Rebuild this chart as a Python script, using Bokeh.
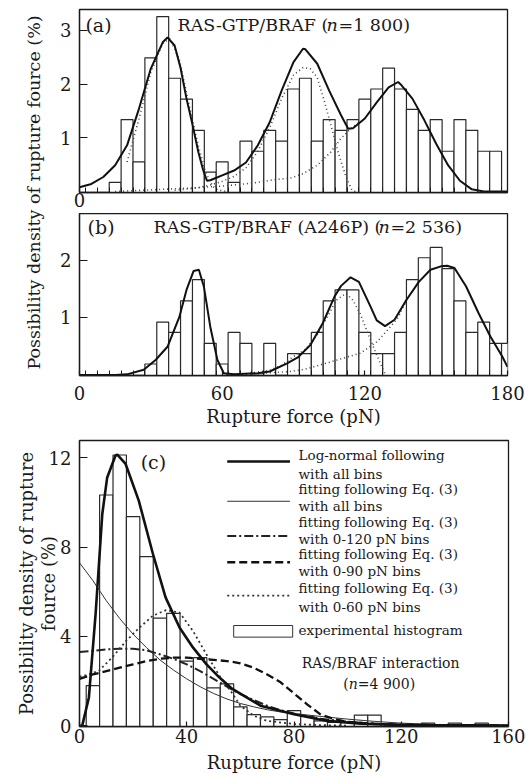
import math
from bokeh.plotting import figure
from bokeh.layouts import row, column
from bokeh.models import Range1d, FixedTicker, ColumnDataSource
from bokeh.core.properties import value
from bokeh.embed import file_html
from bokeh.resources import INLINE

FONT = "DejaVu Serif"
INK = "#1a1a1a"
BIN_WIDTH = 5

# ---------------- panel (a): RAS-GTP/BRAF ----------------
a_bin_centers = list(range(0, 185, 5))
a_hist = [0, 0, 0, 0.17, 1.34, 0.55, 2.49, 3.26, 2.11, 1.72, 1.14, 0.36, 0.55, 0.17,
          0.94, 0.75, 1.14, 0.94, 1.91, 2.11, 0.94, 1.34, 1.14, 1.34, 1.72, 1.91,
          2.30, 1.91, 1.53, 1.14, 1.34, 0.75, 1.34, 1.14, 0.75, 0.75, 0]
a_total_x = [0, 5, 10, 15, 20, 25, 30, 35, 37, 40, 42.5, 45, 47.5, 50, 52, 53.6, 55, 60, 65,
             70, 75, 80, 85, 90, 94, 95, 100, 105, 110, 113, 115, 120, 125, 130, 134, 135,
             140, 145, 150, 155, 160, 165, 170, 175, 180]
a_total_y = [0.08, 0.14, 0.27, 0.49, 0.86, 1.54, 2.29, 2.78, 2.87, 2.72, 2.30, 1.73, 1.25,
             0.73, 0.40, 0.20, 0.21, 0.30, 0.39, 0.54, 0.86, 1.29, 1.88, 2.41, 2.66, 2.65,
             2.38, 1.88, 1.42, 1.17, 1.18, 1.36, 1.66, 1.94, 2.04, 2.00, 1.73, 1.33, 0.89,
             0.49, 0.20, 0.04, 0, 0, 0]
a_comp1_x = [20, 25, 30, 35, 38, 42, 46, 50, 53, 56, 58, 62]
a_comp1_y = [0.55, 1.35, 2.22, 2.76, 2.85, 2.46, 1.63, 0.85, 0.36, 0.10, 0.03, 0.0]
a_comp2_x = [40, 50, 55, 60, 65, 70, 75, 80, 85, 90, 94, 97, 100, 103, 106, 109, 112, 114.5, 116]
a_comp2_y = [0.02, 0.07, 0.12, 0.19, 0.28, 0.44, 0.75, 1.19, 1.73, 2.17, 2.31, 2.29, 2.12,
             1.68, 1.19, 0.70, 0.28, 0.03, 0.0]
a_comp3_x = [15, 30, 45, 60, 67, 75, 82, 88.7, 94, 100, 105.6, 109.8, 114, 118]
a_comp3_y = [0.0, 0.03, 0.06, 0.10, 0.13, 0.17, 0.22, 0.25, 0.33, 0.49, 0.73, 0.98, 1.17, 1.30]

# ---------------- panel (b): RAS-GTP/BRAF (A246P) ----------------
b_bin_centers = list(range(0, 185, 5))
b_hist = [0, 0, 0, 0, 0, 0, 0.19, 0.92, 0.74, 1.29, 1.66, 0.55, 0.19, 0.74, 0.55, 0, 0.55,
          0, 0.37, 0.37, 0.74, 1.29, 1.48, 1.48, 0.74, 0.37, 0.37, 0.74, 1.66, 2.04, 2.22,
          1.85, 1.29, 0.74, 0.92, 0.55, 0.55]
b_total_x = [0, 15, 20, 27, 32, 37, 42, 45, 48, 50.2, 52.3, 55, 58, 60.7, 65, 75, 80, 87.3,
             92, 97.1, 102.3, 107.2, 110, 114, 117.5, 122.4, 125, 128.5, 132.5, 137.4,
             142.7, 147.6, 152, 154.6, 157.7, 162.6, 167.9, 172.8, 177.8, 180]
b_total_y = [0, 0, 0.01, 0.09, 0.26, 0.49, 1.01, 1.48, 1.81, 1.83, 1.54, 0.84, 0.26, 0.03,
             0.01, 0.03, 0.06, 0.20, 0.31, 0.52, 0.90, 1.36, 1.55, 1.70, 1.62, 1.19, 0.95,
             0.85, 0.96, 1.30, 1.62, 1.83, 1.89, 1.90, 1.86, 1.54, 1.07, 0.67, 0.32, 0.14]
b_comp2_x = [60, 70, 80, 85, 90, 95, 100, 105, 108, 112, 115, 118, 120, 122.4, 125.9, 128.7]
b_comp2_y = [0, 0.02, 0.08, 0.17, 0.32, 0.44, 0.70, 1.07, 1.30, 1.42, 1.30, 1.07, 0.86,
             0.61, 0.26, 0.0]
b_comp3_x = [70, 88.7, 95, 104.2, 110, 118.2, 125.2, 130.8, 134, 137.5]
b_comp3_y = [0.01, 0.06, 0.10, 0.21, 0.28, 0.38, 0.58, 0.84, 1.0, 1.30]

# ---------------- panel (c): RAS/BRAF interaction ----------------
c_bin_centers = list(range(5, 155, 5))
c_hist = [1.80, 10.33, 12.12, 9.36, 7.57, 4.82, 5.03, 2.90, 3.05, 1.70, 1.88, 0.85, 0.50,
          0.40, 0.28, 0.68, 0.42, 0.22, 0.15, 0.15, 0.48, 0.48, 0.05, 0.05, 0.05, 0.12,
          0.05, 0.12, 0.03, 0.12]
c_lognorm_x = [0, 1, 3.5, 6, 8.5, 10.3, 13.4, 14.1, 17.2, 22.1, 27.4, 32.1, 37.3, 42.3,
               47.3, 52.2, 57, 67.5, 80, 92.4, 104.9, 117.3, 130, 145, 160]
c_lognorm_y = [0, 0, 1.27, 5.0, 9.48, 11.1, 12.09, 12.14, 11.72, 10.08, 7.69, 5.75, 4.40,
               3.51, 2.76, 2.16, 1.65, 0.90, 0.52, 0.22, 0.10, 0.05, 0.03, 0.02, 0.01]
c_all_x = [0, 5, 10, 15, 20, 25, 30, 35, 40, 45, 50, 55, 60, 65, 70, 75, 80, 90, 100, 110,
           120, 130, 140, 160]
c_all_y = [7.3, 6.5, 5.6, 4.8, 4.1, 3.5, 2.95, 2.5, 2.1, 1.75, 1.45, 1.2, 1.0, 0.85, 0.72,
           0.62, 0.55, 0.42, 0.30, 0.20, 0.12, 0.07, 0.04, 0.01]
c_120_x = [0, 5, 10, 15, 20, 25, 30, 35, 40, 45, 50, 55, 60, 65, 70, 75, 80, 85, 90, 100,
           110, 120, 140, 160]
c_120_y = [3.30, 3.35, 3.42, 3.45, 3.45, 3.38, 3.20, 3.0, 2.75, 2.45, 2.10, 1.75, 1.42,
           1.15, 0.90, 0.70, 0.55, 0.42, 0.32, 0.18, 0.10, 0.06, 0.02, 0.01]
c_90_x = [0, 5, 10, 15, 20, 25, 30, 35, 40, 45, 50, 55, 60, 65, 70, 75, 80, 85, 90, 95, 100,
          110, 120, 140, 160]
c_90_y = [2.10, 2.30, 2.45, 2.60, 2.75, 2.90, 3.0, 3.05, 3.05, 3.0, 2.95, 2.90, 2.80, 2.60,
          2.30, 1.95, 1.45, 0.95, 0.50, 0.30, 0.18, 0.08, 0.04, 0.01, 0.0]
c_60_x = [0, 3.5, 7.2, 12.2, 17.4, 22.4, 27.4, 32.3, 37.3, 42.3, 47.3, 52.2, 57.2, 60, 65,
          70, 80, 90, 100]
c_60_y = [2.2, 2.3, 2.46, 3.06, 3.8, 4.4, 4.93, 5.18, 5.07, 4.25, 3.21, 2.24, 1.42, 0.90,
          0.45, 0.22, 0.08, 0.03, 0.01]

# ---------------- ticks and texts ----------------
a_xticks, a_yticks = [0], [1, 2, 3]
b_xticks, b_yticks = [0, 60, 120, 180], [1, 2]
c_xticks, c_yticks = [0, 40, 80, 120, 160], [0, 4, 8, 12]
x_title = "Rupture force (pN)"
ab_ylabel = "Possibility density of rupture fource (%)"
c_ylabel = "Possibility density of rupture\nfource (%)"
legend_texts = ["Log-normal following", "with all bins", "fitting following Eq. (3)",
                "with all bins", "fitting following Eq. (3)", "with 0-120 pN bins",
                "fitting following Eq. (3)", "with 0-90 pN bins", "fitting following Eq. (3)",
                "with 0-60 pN bins", "experimental histogram"]


def put_text(p, x, y, s, size, align="left", style="normal", xoff=0, angle=0.0):
    p.text(x=[x], y=[y], text=[s], text_font=value(FONT), text_font_size=f"{size}px",
           text_font_style=style, text_align=align, text_baseline="middle",
           text_color=INK, x_offset=xoff, angle=angle)


def panel(width, height, xr, yr, bl, br, bt, bb):
    p = figure(width=width, height=height, x_range=Range1d(*xr), y_range=Range1d(*yr),
               min_border_left=bl, min_border_right=br, min_border_top=bt,
               min_border_bottom=bb, output_backend="svg", toolbar_location=None,
               title=None)
    p.grid.visible = False
    p.outline_line_color = INK
    p.outline_line_width = 1.3
    p.background_fill_color = "white"
    p.border_fill_color = "white"
    for ax in p.axis:
        ax.major_label_text_font = FONT
        ax.major_label_text_font_size = "18px"
        ax.major_label_text_color = INK
        ax.axis_label_text_font = FONT
        ax.axis_label_text_font_size = "18px"
        ax.axis_label_text_font_style = "normal"
        ax.axis_label_text_color = INK
        ax.axis_line_color = INK
        ax.axis_line_width = 1.3
        ax.major_tick_line_color = INK
        ax.major_tick_line_width = 1.2
        ax.minor_tick_line_color = INK
        ax.minor_tick_line_width = 1.0
    p.yaxis.major_tick_in = 8
    p.yaxis.major_tick_out = 0
    p.yaxis.minor_tick_in = 0
    p.yaxis.minor_tick_out = 0
    p.yaxis.major_label_standoff = 8
    p.xaxis.major_tick_in = 5
    p.xaxis.major_tick_out = 0
    p.xaxis.minor_tick_in = 5
    p.xaxis.minor_tick_out = 0
    return p


def draw_hist(p, centers, vals):
    keep = [(c, v) for c, v in zip(centers, vals) if v > 0]
    src = ColumnDataSource(dict(left=[c - BIN_WIDTH / 2 for c, v in keep],
                                right=[c + BIN_WIDTH / 2 for c, v in keep],
                                top=[v for c, v in keep]))
    p.quad(left="left", right="right", top="top", bottom=p.y_range.start, source=src,
           fill_color="white", line_color="#2a2a2a", line_width=1.2)


def bin_edges(centers):
    return [c + BIN_WIDTH / 2 for c in centers[:-1]]


DOT = dict(line_color="#444444", line_width=1.6, line_dash="1 3")
SOLID = dict(line_color="#111111", line_width=2.0)

# ---- (a)
fa = panel(475, 213, (0, 180), (-0.019, 3.391), 29, 18, 9, 21)
fa.xaxis.ticker = FixedTicker(ticks=a_xticks, minor_ticks=bin_edges(a_bin_centers))
fa.yaxis.ticker = FixedTicker(ticks=a_yticks)
fa.xaxis.major_label_standoff = 0
draw_hist(fa, a_bin_centers, a_hist)
fa.line(a_comp3_x, a_comp3_y, **DOT)
fa.line(a_comp2_x, a_comp2_y, **DOT)
fa.line(a_comp1_x, a_comp1_y, **DOT)
fa.line(a_total_x, a_total_y, **SOLID)
put_text(fa, 2.5, 3.11, "(a)", 19)
put_text(fa, 41.2, 3.11, "RAS-GTP/BRAF (", 17.5)
put_text(fa, 41.2, 3.11, "n", 17.5, style="italic", xoff=149)
put_text(fa, 41.2, 3.11, "=1 800)", 17.5, xoff=161)

# ---- (b)
fb = panel(475, 221, (0, 180), (-0.01, 2.81), 29, 18, 0, 59)
fb.xaxis.ticker = FixedTicker(ticks=b_xticks, minor_ticks=bin_edges(b_bin_centers))
fb.yaxis.ticker = FixedTicker(ticks=b_yticks)
fb.xaxis.major_label_standoff = 10
fb.xaxis.axis_label = x_title
fb.xaxis.axis_label_standoff = 3
draw_hist(fb, b_bin_centers, b_hist)
fb.line(b_comp3_x, b_comp3_y, **DOT)
fb.line(b_comp2_x, b_comp2_y, **DOT)
fb.line(b_total_x, b_total_y, **SOLID)
put_text(fb, 3.4, 2.58, "(b)", 19)
put_text(fb, 31.1, 2.58, "RAS-GTP/BRAF (A246P) (", 17.5)
put_text(fb, 31.1, 2.58, "n", 17.5, style="italic", xoff=225)
put_text(fb, 31.1, 2.58, "=2 536)", 17.5, xoff=237)

# ---- (c)
fc = panel(525, 342, (0, 160), (-0.03, 12.77), 79, 17, 6, 50)
fc.xaxis.ticker = FixedTicker(ticks=c_xticks)
fc.yaxis.ticker = FixedTicker(ticks=c_yticks)
fc.xaxis.major_label_standoff = 2
fc.xaxis.minor_tick_in = 0
fc.xaxis.axis_label = x_title
fc.xaxis.axis_label_standoff = 6
fc.yaxis.axis_label = c_ylabel
fc.yaxis.axis_label_text_line_height = 1.05
fc.yaxis.axis_label_standoff = -13
draw_hist(fc, c_bin_centers, c_hist)
S_LOG = dict(line_color="#111111", line_width=2.6)
S_ALL = dict(line_color="#333333", line_width=1.0)
S_120 = dict(line_color="#222222", line_width=2.0, line_dash="9 3 2 3")
S_90 = dict(line_color="#111111", line_width=2.3, line_dash="8 4")
S_60 = dict(line_color="#333333", line_width=1.8, line_dash="2 3")
fc.line(c_all_x, c_all_y, **S_ALL)
fc.line(c_120_x, c_120_y, **S_120)
fc.line(c_90_x, c_90_y, **S_90)
fc.line(c_60_x, c_60_y, **S_60)
fc.line(c_lognorm_x, c_lognorm_y, **S_LOG)
put_text(fc, 22.8, 11.79, "(c)", 19)

# legend of (c), drawn by hand
LX0, LX1, TX = 55.1, 78.5, 81.7
for style, ly in zip([S_LOG, S_ALL, S_120, S_90, S_60], [11.83, 10.05, 8.50, 7.32, 5.83]):
    fc.line([LX0, LX1], [ly, ly], **style)
fc.quad(left=[57.5], right=[79.5], bottom=[3.97], top=[4.49], fill_color="white",
        line_color="#333333", line_width=1.0)
for s, ty in zip(legend_texts, [12.10, 11.29, 10.62, 9.82, 9.11, 8.38, 7.71, 6.95, 6.15,
                                5.34, 4.27]):
    put_text(fc, TX, ty, s, 13.5)
put_text(fc, 112.3, 2.79, "RAS/BRAF interaction", 14, align="center")
put_text(fc, 98.4, 1.89, "(", 14)
put_text(fc, 98.4, 1.89, "n", 14, style="italic", xoff=5.5)
put_text(fc, 98.4, 1.89, "=4 900)", 14, xoff=14.5)


# ---- y-axis title strip for (a)+(b)
def label_strip(w, h):
    p = figure(width=w, height=h, x_range=Range1d(0, w), y_range=Range1d(0, h),
               min_border=0, output_backend="svg", toolbar_location=None, title=None,
               x_axis_location=None, y_axis_location=None)
    p.grid.visible = False
    p.outline_line_color = None
    p.background_fill_color = "white"
    p.border_fill_color = "white"
    return p


lab_ab = label_strip(50, 434)
put_text(lab_ab, 33, 242, ab_ylabel, 17.5, align="center", angle=math.pi / 2)

layout = column(row(lab_ab, column(fa, fb)), fc)
open("out.html", "w").write(file_html(layout, INLINE))
